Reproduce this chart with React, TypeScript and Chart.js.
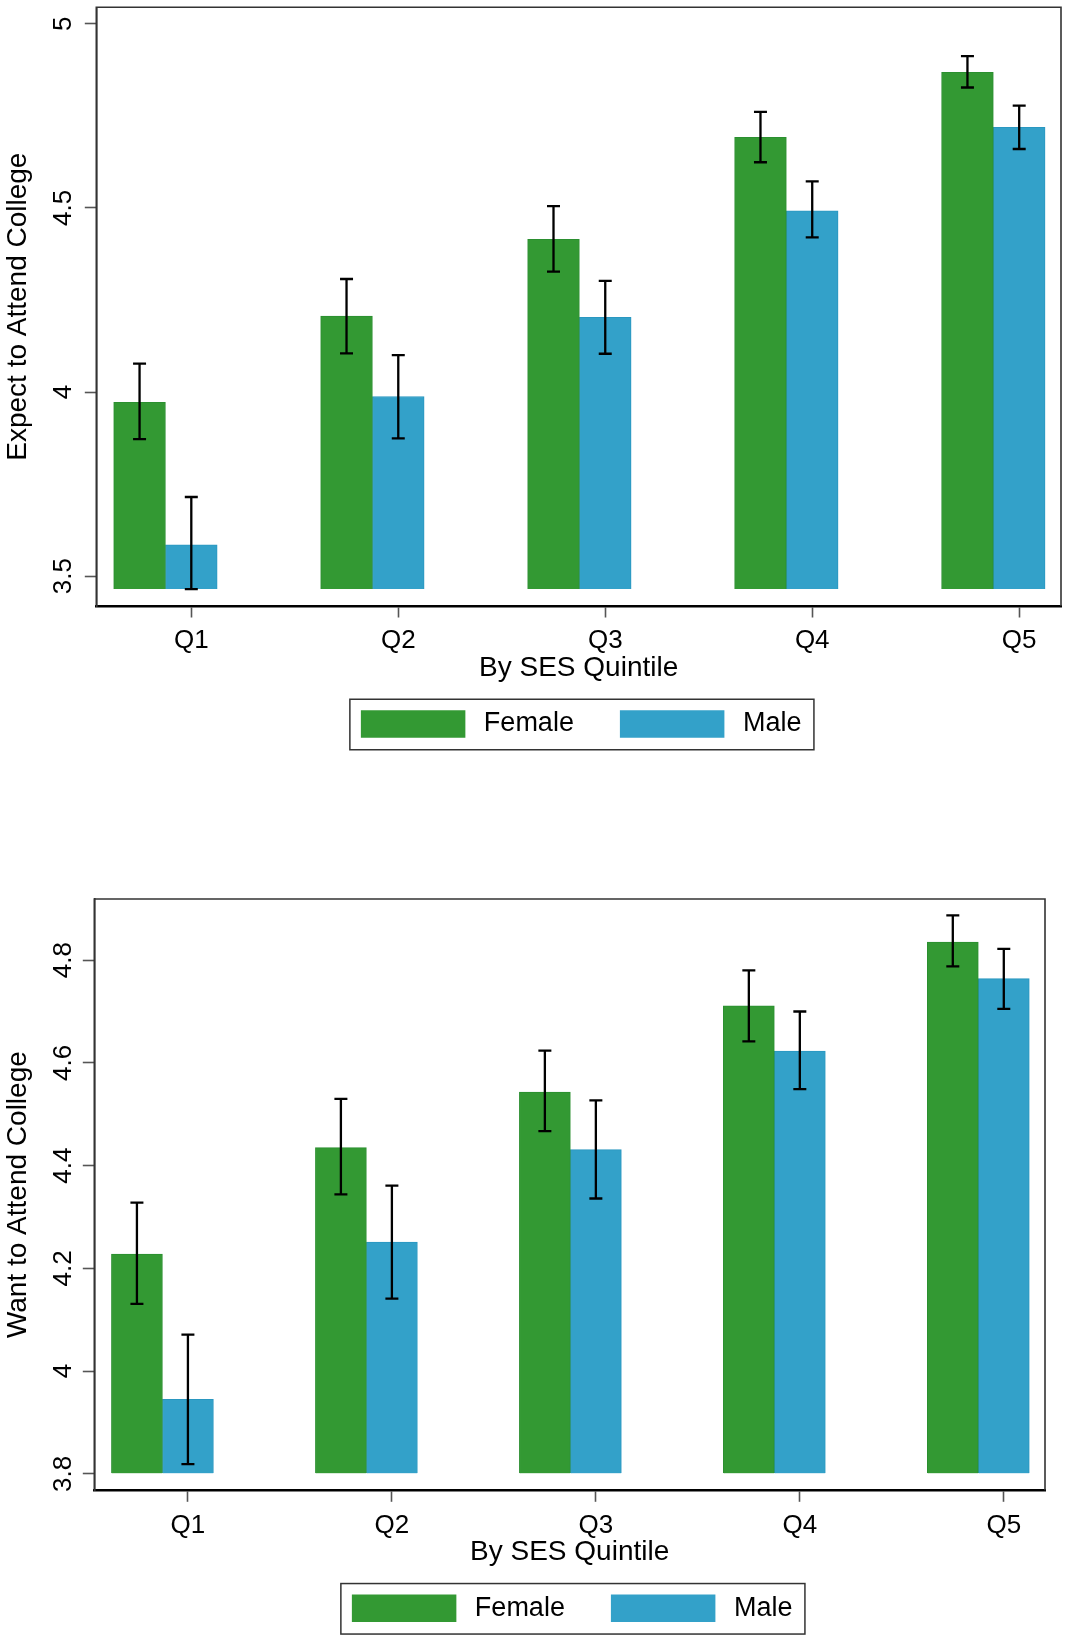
import React, { useEffect, useRef } from 'react';
import { Chart, registerables } from 'chart.js';

Chart.register(...registerables);
Chart.defaults.font.family = "'Liberation Sans', Arial, Helvetica, sans-serif";
Chart.defaults.color = '#000';

// ---------- data ----------
const QUINTILES = ['Q1', 'Q2', 'Q3', 'Q4', 'Q5'];
const SERIES = ['Female', 'Male'];

// Panel 1: Expect to Attend College
const EXPECT_FEMALE = [3.972, 4.206, 4.415, 4.692, 4.868];
const EXPECT_FEMALE_LO = [3.872, 4.105, 4.327, 4.624, 4.827];
const EXPECT_FEMALE_HI = [4.077, 4.307, 4.505, 4.761, 4.912];
const EXPECT_MALE = [3.585, 3.988, 4.203, 4.492, 4.719];
const EXPECT_MALE_LO = [3.465, 3.874, 4.104, 4.42, 4.66];
const EXPECT_MALE_HI = [3.715, 4.1, 4.302, 4.572, 4.778];
const EXPECT_Y_TICKS = [3.5, 4, 4.5, 5];
const EXPECT_BASE = 3.465;

// Panel 2: Want to Attend College
const WANT_FEMALE = [4.228, 4.435, 4.543, 4.711, 4.835];
const WANT_FEMALE_LO = [4.131, 4.344, 4.467, 4.642, 4.788];
const WANT_FEMALE_HI = [4.328, 4.53, 4.624, 4.78, 4.887];
const WANT_MALE = [3.945, 4.251, 4.431, 4.623, 4.764];
const WANT_MALE_LO = [3.819, 4.141, 4.336, 4.549, 4.705];
const WANT_MALE_HI = [4.071, 4.361, 4.527, 4.7, 4.822];
const WANT_Y_TICKS = [3.8, 4, 4.2, 4.4, 4.6, 4.8];
const WANT_BASE = 3.8;

const X_TITLE = 'By SES Quintile';

// ---------- style ----------
const GREEN = '#339933';
const GREEN_EDGE = '#2b8f30';
const BLUE = '#33a1c9';
const BLUE_EDGE = '#2a97c0';
const W = 1081;
const X_MIN = 0.541;
const X_MAX = 5.202;
const FEMALE_SHIFT = -0.25;
const TICK_LEN = 11.5;
const X_AXIS_H = 58.25;
const X_TITLE_SIZE = 28;
const X_TITLE_MID = 62; // distance from axis line to title centre
const LEG_FONT = 27;
const LEG_STROKE = 10;
const LEG_BOX_W = 114.5;
const LEG_BOX_H = 37.5;
const LEG_PAD = 41;
const LEG_H = Math.max(LEG_FONT, LEG_BOX_H) + LEG_PAD + 10;

type PanelCfg = {
  canvasTop: number;
  height: number;
  area: { left: number; top: number; right: number; bottom: number };
  yTitle: string;
  yMin: number;
  yMax: number;
  yTicks: number[];
  base: number;
  female: number[];
  femaleLo: number[];
  femaleHi: number[];
  male: number[];
  maleLo: number[];
  maleHi: number[];
  yTickPad: number;
};

const PANELS: PanelCfg[] = [
  {
    canvasTop: 0,
    height: 780,
    area: { left: 96.3, top: 7.3, right: 1061, bottom: 606 },
    yTitle: 'Expect to Attend College',
    yMin: 3.419,
    yMax: 5.0448,
    yTicks: EXPECT_Y_TICKS,
    base: EXPECT_BASE,
    female: EXPECT_FEMALE,
    femaleLo: EXPECT_FEMALE_LO,
    femaleHi: EXPECT_FEMALE_HI,
    male: EXPECT_MALE,
    maleLo: EXPECT_MALE_LO,
    maleHi: EXPECT_MALE_HI,
    yTickPad: 3.3,
  },
  {
    canvasTop: 800,
    height: 841,
    area: { left: 94.3, top: 99, right: 1045, bottom: 690.3 },
    yTitle: 'Want to Attend College',
    yMin: 3.768,
    yMax: 4.919,
    yTicks: WANT_Y_TICKS,
    base: WANT_BASE,
    female: WANT_FEMALE,
    femaleLo: WANT_FEMALE_LO,
    femaleHi: WANT_FEMALE_HI,
    male: WANT_MALE,
    maleLo: WANT_MALE_LO,
    maleHi: WANT_MALE_HI,
    yTickPad: 1.3,
  },
];

function buildConfig(p: PanelCfg): any {
  const errorSets = [
    { lo: p.femaleLo, hi: p.femaleHi },
    { lo: p.maleLo, hi: p.maleHi },
  ];

  const errorBars = {
    id: 'errorBars',
    afterDatasetsDraw(chart: any) {
      const { ctx } = chart;
      const y = chart.scales.y;
      ctx.save();
      ctx.strokeStyle = '#000';
      ctx.lineWidth = 2.3;
      errorSets.forEach((s, d) => {
        const meta = chart.getDatasetMeta(d);
        meta.data.forEach((el: any, i: number) => {
          const x = el.x;
          const yl = y.getPixelForValue(s.lo[i]);
          const yh = y.getPixelForValue(s.hi[i]);
          ctx.beginPath();
          ctx.moveTo(x, yl);
          ctx.lineTo(x, yh);
          ctx.moveTo(x - 6.5, yl);
          ctx.lineTo(x + 6.5, yl);
          ctx.moveTo(x - 6.5, yh);
          ctx.lineTo(x + 6.5, yh);
          ctx.stroke();
        });
      });
      ctx.restore();
    },
  };

  const frame = {
    id: 'frame',
    afterDraw(chart: any) {
      const { ctx, chartArea: a } = chart;
      ctx.save();
      ctx.strokeStyle = '#333';
      ctx.lineWidth = 1.6;
      ctx.beginPath();
      ctx.moveTo(a.left, a.bottom);
      ctx.lineTo(a.left, a.top);
      ctx.lineTo(a.right, a.top);
      ctx.lineTo(a.right, a.bottom);
      ctx.stroke();
      // legend border
      const hb = chart.legend && chart.legend.legendHitBoxes;
      if (hb && hb.length) {
        const first = hb[0];
        const last = hb[hb.length - 1];
        const l = first.left + LEG_STROKE / 2 - 11;
        const r = last.left + last.width + 12.5;
        const t = first.top + LEG_STROKE / 2 - 11;
        const b = first.top + first.height - LEG_STROKE / 2 + 12;
        ctx.strokeStyle = '#333';
        ctx.lineWidth = 1.5;
        ctx.strokeRect(l, t, r - l, b - t);
      }
      ctx.restore();
    },
  };

  return {
    type: 'bar',
    data: {
      datasets: [
        {
          label: SERIES[0],
          data: p.female.map((v, i) => ({ x: i + 1 + FEMALE_SHIFT, y: v })),
          backgroundColor: GREEN,
          borderColor: GREEN_EDGE,
          borderWidth: 1,
          base: p.base,
          grouped: false,
          categoryPercentage: 1,
          barPercentage: 1,
        },
        {
          label: SERIES[1],
          data: p.male.map((v, i) => ({ x: i + 1, y: v })),
          backgroundColor: BLUE,
          borderColor: BLUE_EDGE,
          borderWidth: 1,
          base: p.base,
          grouped: false,
          categoryPercentage: 1,
          barPercentage: 1,
        },
      ],
    },
    options: {
      responsive: false,
      animation: false,
      events: [],
      layout: {
        padding: {
          left: 0,
          top: p.area.top,
          right: W - p.area.right,
          bottom: p.height - p.area.bottom - X_AXIS_H - LEG_H,
        },
      },
      scales: {
        x: {
          type: 'linear',
          min: X_MIN,
          max: X_MAX,
          offset: false,
          afterBuildTicks: (scale: any) => {
            scale.ticks = QUINTILES.map((_, i) => ({ value: i + 1 }));
          },
          afterFit: (scale: any) => {
            scale.height = X_AXIS_H;
            scale.paddingLeft = 0;
            scale.paddingRight = 0;
          },
          ticks: {
            autoSkip: false,
            maxRotation: 0,
            minRotation: 0,
            padding: 8.2,
            color: '#000',
            font: { size: 26 },
            callback: (v: any) => QUINTILES[Math.round(Number(v)) - 1] ?? '',
          },
          grid: {
            display: true,
            offset: false,
            drawOnChartArea: false,
            drawTicks: true,
            tickLength: TICK_LEN,
            color: '#555',
            tickColor: '#555',
            tickWidth: 1.6,
          },
          border: { display: true, color: '#000', width: 2.6 },
          title: {
            display: true,
            text: X_TITLE,
            color: '#000',
            font: { size: X_TITLE_SIZE },
            padding: { top: 0, bottom: X_AXIS_H - X_TITLE_MID - (X_TITLE_SIZE * 1.2) / 2 },
          },
        },
        y: {
          type: 'linear',
          min: p.yMin,
          max: p.yMax,
          afterBuildTicks: (scale: any) => {
            scale.ticks = p.yTicks.map((v) => ({ value: v }));
          },
          afterFit: (scale: any) => {
            scale.width = p.area.left;
            scale.paddingTop = 0;
            scale.paddingBottom = 0;
          },
          ticks: {
            autoSkip: false,
            minRotation: 90,
            maxRotation: 90,
            crossAlign: 'center',
            padding: p.yTickPad,
            color: '#000',
            font: { size: 26 },
            callback: (v: any) => String(v),
          },
          grid: {
            display: true,
            drawOnChartArea: false,
            drawTicks: true,
            tickLength: TICK_LEN,
            color: '#555',
            tickColor: '#555',
            tickWidth: 1.6,
          },
          border: { display: true, color: '#333', width: 1.6 },
          title: {
            display: true,
            text: p.yTitle,
            color: '#000',
            font: { size: 28 },
            padding: { top: 1.2, bottom: 0 },
          },
        },
      },
      plugins: {
        tooltip: { enabled: false },
        title: { display: false },
        legend: {
          display: true,
          position: 'bottom',
          fullSize: false,
          align: 'center',
          labels: {
            color: '#000',
            font: { size: LEG_FONT },
            boxWidth: LEG_BOX_W,
            boxHeight: LEG_BOX_H,
            padding: LEG_PAD,
            generateLabels: (chart: any) => {
              const items = Chart.defaults.plugins.legend.labels.generateLabels(chart);
              return items.map((it: any) => ({
                ...it,
                strokeStyle: '#ffffff',
                lineWidth: LEG_STROKE,
              }));
            },
          },
        },
      },
    },
    plugins: [errorBars, frame],
  };
}

function Panel({ cfg }: { cfg: PanelCfg }) {
  const ref = useRef<HTMLCanvasElement | null>(null);
  useEffect(() => {
    if (!ref.current) return;
    const chart = new Chart(ref.current, buildConfig(cfg));
    return () => chart.destroy();
  }, [cfg]);
  return (
    <canvas
      ref={ref}
      width={W}
      height={cfg.height}
      style={{ position: 'absolute', left: 0, top: cfg.canvasTop, width: W, height: cfg.height, display: 'block' }}
    />
  );
}

export default function App() {
  return (
    <div
      style={{
        position: 'absolute',
        left: 0,
        top: 0,
        width: W,
        height: 1641,
        background: '#fff',
        overflow: 'hidden',
      }}
    >
      {PANELS.map((p, i) => (
        <Panel key={i} cfg={p} />
      ))}
    </div>
  );
}
